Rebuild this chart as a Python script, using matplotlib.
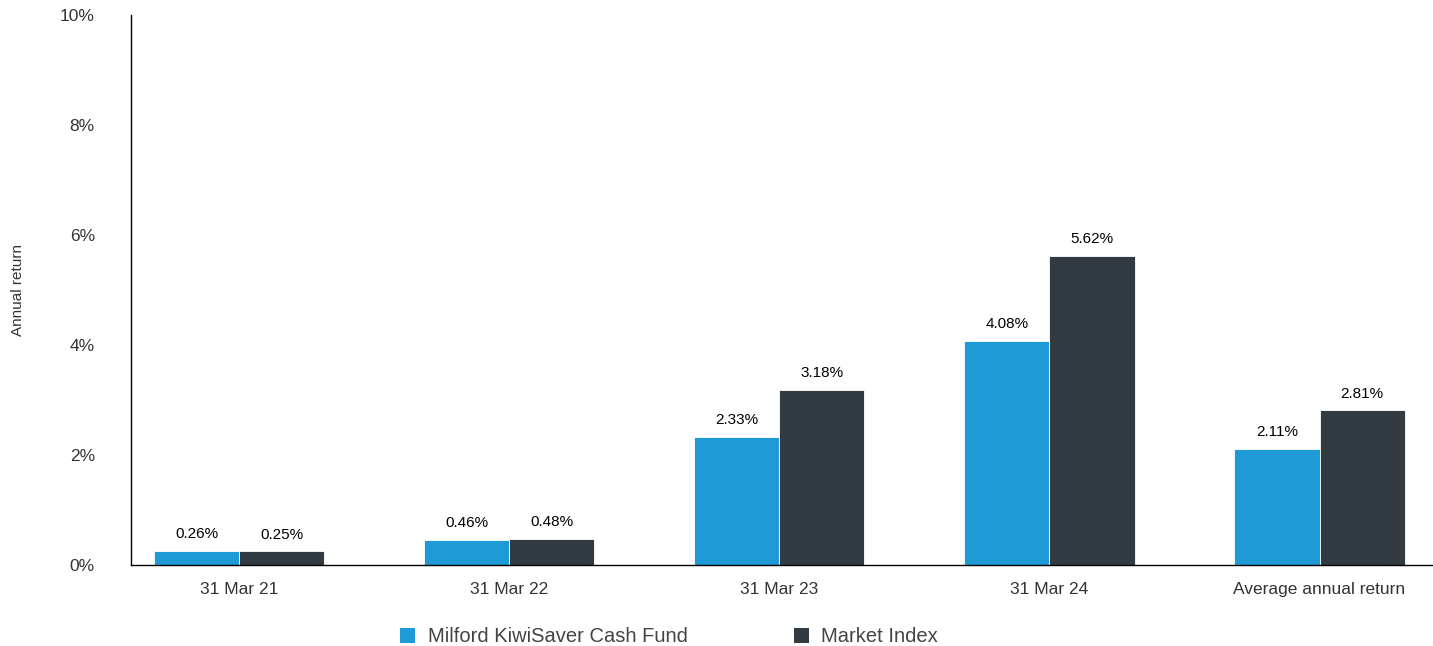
import matplotlib.pyplot as plt
from matplotlib.patches import Patch
import numpy as np

categories = ["31 Mar 21", "31 Mar 22", "31 Mar 23", "31 Mar 24", "Average annual return"]
fund = [0.26, 0.46, 2.33, 4.08, 2.11]
index = [0.25, 0.48, 3.18, 5.62, 2.81]
series_names = ["Milford KiwiSaver Cash Fund", "Market Index"]
yticks = [0, 2, 4, 6, 8, 10]

blue = "#1E9AD6"
dark = "#323B42"

plt.rcParams['font.family'] = ['Liberation Sans', 'DejaVu Sans']

fig = plt.figure(figsize=(14.33, 6.46), dpi=100)
ax = fig.add_axes([0.0914, 0.1254, 0.9086, 0.8514])

x = np.arange(len(categories))
w = 0.315
b1 = ax.bar(x - w / 2, fund, w, color=blue, edgecolor="white", linewidth=0.6)
b2 = ax.bar(x + w / 2, index, w, color=dark, edgecolor="white", linewidth=0.6)

#value labels above bars
for bars, vals in [(b1, fund), (b2, index)]:
    for bar, v in zip(bars, vals):
        ax.annotate(f"{v:.2f}%", (bar.get_x() + bar.get_width() / 2, v),
                    xytext=(0, 7), textcoords="offset points",
                    ha="center", va="bottom", fontsize=11, color="black")

ax.set_xlim(-0.40, 4.42)
ax.set_ylim(0, 10)
ax.set_yticks(yticks)
ax.set_yticklabels([f"{t}%" for t in yticks])
ax.set_xticks(x)
ax.set_xticklabels(categories)
ax.tick_params(axis="both", length=0, labelsize=12.5, labelcolor="#333333")
ax.tick_params(axis="y", pad=26)
ax.tick_params(axis="x", pad=12)
ax.set_ylabel("Annual return", fontsize=11, color="#333333", labelpad=25)

for s in ["top", "right"]:
    ax.spines[s].set_visible(False)
ax.spines["left"].set_linewidth(1)
ax.spines["bottom"].set_linewidth(1)

handles = [Patch(facecolor=blue), Patch(facecolor=dark)]
fig.legend(handles, series_names, loc="center", bbox_to_anchor=(0.467, 0.014),
           ncol=2, frameon=False, fontsize=14.5, handlelength=0.75, handleheight=0.75,
           columnspacing=5.3, handletextpad=0.6, labelcolor="#444444")

plt.savefig("out.png", dpi=100)
